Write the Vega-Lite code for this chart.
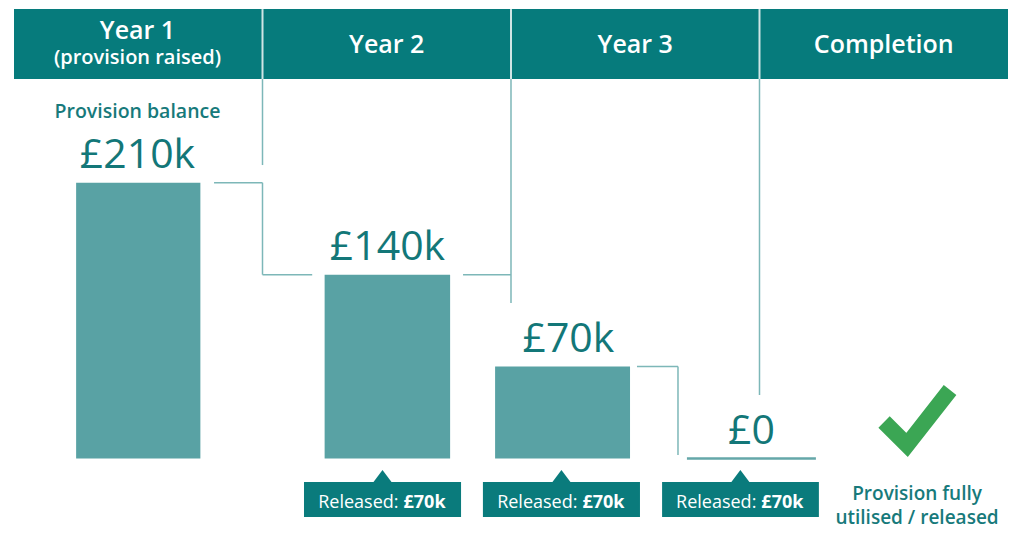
{
  "$schema": "https://vega.github.io/schema/vega-lite/v6.json",
  "width": 1024,
  "height": 558,
  "autosize": {"type": "none"},
  "padding": 0,
  "background": "#ffffff",
  "config": {"view": {"stroke": null}, "text": {"font": "Open Sans"}},
  "layer": [
    {
      "data": {"values": [
        {"period": "Year 1", "start": 0, "end": 1, "top": 342.3, "bottom": 289},
        {"period": "Year 2", "start": 1, "end": 2, "top": 342.3, "bottom": 289},
        {"period": "Year 3", "start": 2, "end": 3, "top": 342.3, "bottom": 289},
        {"period": "Completion", "start": 3, "end": 4, "top": 342.3, "bottom": 289}
      ]},
      "mark": {"type": "rect", "fill": "#067b7c"},
      "encoding": {
        "x": {"field": "start", "type": "quantitative", "scale": {"domain": [-0.05634, 4.0644], "nice": false, "zero": false}, "axis": null},
        "x2": {"field": "end"},
        "y": {"field": "top", "type": "quantitative", "scale": {"domain": [-75.8, 349.2], "nice": false, "zero": false}, "axis": null},
        "y2": {"field": "bottom"}
      }
    },
    {
      "data": {"values": [{"at": 1, "top": 342.3, "bottom": 289}, {"at": 2, "top": 342.3, "bottom": 289}, {"at": 3, "top": 342.3, "bottom": 289}]},
      "mark": {"type": "rule", "stroke": "#cfe5e5", "strokeWidth": 2},
      "encoding": {
        "x": {"field": "at", "type": "quantitative", "scale": {"domain": [-0.05634, 4.0644], "nice": false, "zero": false}, "axis": null},
        "y": {"field": "top", "type": "quantitative", "scale": {"domain": [-75.8, 349.2], "nice": false, "zero": false}, "axis": null},
        "y2": {"field": "bottom"}
      }
    },
    {
      "data": {"values": [
        {"x": 1, "x2": 1, "y": 289, "y2": 223.5},
        {"x": 2, "x2": 2, "y": 289, "y2": 118.4},
        {"x": 3, "x2": 3, "y": 289, "y2": 48.4},
        {"x": 0.805, "x2": 1, "y": 210, "y2": 210},
        {"x": 1, "x2": 1, "y": 210, "y2": 140},
        {"x": 1, "x2": 1.2, "y": 140, "y2": 140},
        {"x": 1.807, "x2": 2, "y": 140, "y2": 140},
        {"x": 2.507, "x2": 2.672, "y": 70, "y2": 70},
        {"x": 2.672, "x2": 2.672, "y": 70, "y2": 2.7}
      ]},
      "mark": {"type": "rule", "stroke": "#7db7b8", "strokeWidth": 1.5},
      "encoding": {
        "x": {"field": "x", "type": "quantitative", "scale": {"domain": [-0.05634, 4.0644], "nice": false, "zero": false}, "axis": null},
        "x2": {"field": "x2"},
        "y": {"field": "y", "type": "quantitative", "scale": {"domain": [-75.8, 349.2], "nice": false, "zero": false}, "axis": null},
        "y2": {"field": "y2"}
      }
    },
    {
      "data": {"values": [
        {"label": "Year 1", "at": 0.497, "line": 319.6, "size": "big"},
        {"label": "(provision raised)", "at": 0.497, "line": 300.6, "size": "small"},
        {"label": "Year 2", "at": 1.5, "line": 308.8, "size": "big"},
        {"label": "Year 3", "at": 2.5, "line": 308.8, "size": "big"},
        {"label": "Completion", "at": 3.5, "line": 308.8, "size": "big"}
      ]},
      "mark": {"type": "text", "fill": "#ffffff", "fontWeight": 600, "baseline": "alphabetic", "align": "center"},
      "encoding": {
        "x": {"field": "at", "type": "quantitative", "scale": {"domain": [-0.05634, 4.0644], "nice": false, "zero": false}, "axis": null},
        "y": {"field": "line", "type": "quantitative", "scale": {"domain": [-75.8, 349.2], "nice": false, "zero": false}, "axis": null},
        "size": {"field": "size", "type": "nominal", "scale": {"domain": ["big", "small"], "range": [25, 20]}, "legend": null},
        "text": {"field": "label"}
      }
    },
    {
      "data": {"values": [{"label": "Provision balance", "at": 0.497, "line": 259.3}]},
      "mark": {"type": "text", "fill": "#177a7b", "fontSize": 19.5, "fontWeight": 600, "baseline": "alphabetic", "align": "center"},
      "encoding": {
        "x": {"field": "at", "type": "quantitative", "scale": {"domain": [-0.05634, 4.0644], "nice": false, "zero": false}, "axis": null},
        "y": {"field": "line", "type": "quantitative", "scale": {"domain": [-75.8, 349.2], "nice": false, "zero": false}, "axis": null},
        "text": {"field": "label"}
      }
    },
    {
      "data": {"values": [
        {"period": "Year 1", "balance": 210, "base": 0, "from": 0.25, "to": 0.75},
        {"period": "Year 2", "balance": 140, "base": 0, "from": 1.25, "to": 1.755},
        {"period": "Year 3", "balance": 70, "base": 0, "from": 1.936, "to": 2.479}
      ]},
      "mark": {"type": "rect", "fill": "#59a2a4"},
      "encoding": {
        "x": {"field": "from", "type": "quantitative", "scale": {"domain": [-0.05634, 4.0644], "nice": false, "zero": false}, "axis": null},
        "x2": {"field": "to"},
        "y": {"field": "balance", "type": "quantitative", "scale": {"domain": [-75.8, 349.2], "nice": false, "zero": false}, "axis": null},
        "y2": {"field": "base"}
      }
    },
    {
      "data": {"values": [{"period": "Completion", "balance": 0, "from": 2.708, "to": 3.227}]},
      "mark": {"type": "rule", "stroke": "#65a7a9", "strokeWidth": 2.5},
      "encoding": {
        "x": {"field": "from", "type": "quantitative", "scale": {"domain": [-0.05634, 4.0644], "nice": false, "zero": false}, "axis": null},
        "x2": {"field": "to"},
        "y": {"field": "balance", "type": "quantitative", "scale": {"domain": [-75.8, 349.2], "nice": false, "zero": false}, "axis": null}
      }
    },
    {
      "data": {"values": [
        {"label": "£210k", "balance": 210, "at": 0.497},
        {"label": "£140k", "balance": 140, "at": 1.503},
        {"label": "£70k", "balance": 70, "at": 2.231},
        {"label": "£0", "balance": 0, "at": 2.968}
      ]},
      "mark": {"type": "text", "fill": "#137778", "fontSize": 41, "fontWeight": 400, "baseline": "alphabetic", "align": "center", "dy": -14.5},
      "encoding": {
        "x": {"field": "at", "type": "quantitative", "scale": {"domain": [-0.05634, 4.0644], "nice": false, "zero": false}, "axis": null},
        "y": {"field": "balance", "type": "quantitative", "scale": {"domain": [-75.8, 349.2], "nice": false, "zero": false}, "axis": null},
        "text": {"field": "label"}
      }
    },
    {
      "data": {"values": [
        {"period": "Year 2", "released": "£70k", "at": 1.483, "from": 1.167, "to": 1.799, "top": -17.9, "bottom": -44.6, "tip": -13.3, "line": -37.7},
        {"period": "Year 3", "released": "£70k", "at": 2.203, "from": 1.887, "to": 2.519, "top": -17.9, "bottom": -44.6, "tip": -13.3, "line": -37.7},
        {"period": "Completion", "released": "£70k", "at": 2.923, "from": 2.608, "to": 3.239, "top": -17.9, "bottom": -44.6, "tip": -13.3, "line": -37.7}
      ]},
      "layer": [
        {
          "mark": {"type": "rect", "fill": "#0a7b7c"},
          "encoding": {
            "x": {"field": "from", "type": "quantitative", "scale": {"domain": [-0.05634, 4.0644], "nice": false, "zero": false}, "axis": null},
            "x2": {"field": "to"},
            "y": {"field": "top", "type": "quantitative", "scale": {"domain": [-75.8, 349.2], "nice": false, "zero": false}, "axis": null},
            "y2": {"field": "bottom"}
          }
        },
        {
          "mark": {"type": "point", "shape": "M0,-0.6L0.9,0.6L-0.9,0.6Z", "size": 400, "filled": true, "color": "#0a7b7c", "opacity": 1},
          "encoding": {
            "x": {"field": "at", "type": "quantitative", "scale": {"domain": [-0.05634, 4.0644], "nice": false, "zero": false}, "axis": null},
            "y": {"field": "tip", "type": "quantitative", "scale": {"domain": [-75.8, 349.2], "nice": false, "zero": false}, "axis": null}
          }
        },
        {
          "mark": {"type": "text", "fill": "#ffffff", "fontSize": 18, "fontWeight": 400, "baseline": "alphabetic", "align": "right", "dx": 16, "text": "Released:"},
          "encoding": {
            "x": {"field": "at", "type": "quantitative", "scale": {"domain": [-0.05634, 4.0644], "nice": false, "zero": false}, "axis": null},
            "y": {"field": "line", "type": "quantitative", "scale": {"domain": [-75.8, 349.2], "nice": false, "zero": false}, "axis": null}
          }
        },
        {
          "mark": {"type": "text", "fill": "#ffffff", "fontSize": 18, "fontWeight": 700, "baseline": "alphabetic", "align": "left", "dx": 21},
          "encoding": {
            "x": {"field": "at", "type": "quantitative", "scale": {"domain": [-0.05634, 4.0644], "nice": false, "zero": false}, "axis": null},
            "y": {"field": "line", "type": "quantitative", "scale": {"domain": [-75.8, 349.2], "nice": false, "zero": false}, "axis": null},
            "text": {"field": "released"}
          }
        }
      ]
    },
    {
      "data": {"values": [{"status": "Provision fully utilised / released", "at": 3.63, "level": 29.3}]},
      "mark": {"type": "point", "shape": "M-0.8,0.05L-0.225,0.625L0.85,-0.75", "size": 6400, "filled": false, "stroke": "#3ba654", "strokeWidth": 16, "strokeJoin": "miter", "strokeCap": "butt", "opacity": 1},
      "encoding": {
        "x": {"field": "at", "type": "quantitative", "scale": {"domain": [-0.05634, 4.0644], "nice": false, "zero": false}, "axis": null},
        "y": {"field": "level", "type": "quantitative", "scale": {"domain": [-75.8, 349.2], "nice": false, "zero": false}, "axis": null}
      }
    },
    {
      "data": {"values": [
        {"label": "Provision fully", "at": 3.634, "line": -31.6},
        {"label": "utilised / released", "at": 3.634, "line": -49.9}
      ]},
      "mark": {"type": "text", "fill": "#177a7b", "fontSize": 19, "fontWeight": 600, "baseline": "alphabetic", "align": "center"},
      "encoding": {
        "x": {"field": "at", "type": "quantitative", "scale": {"domain": [-0.05634, 4.0644], "nice": false, "zero": false}, "axis": null},
        "y": {"field": "line", "type": "quantitative", "scale": {"domain": [-75.8, 349.2], "nice": false, "zero": false}, "axis": null},
        "text": {"field": "label"}
      }
    }
  ]
}
